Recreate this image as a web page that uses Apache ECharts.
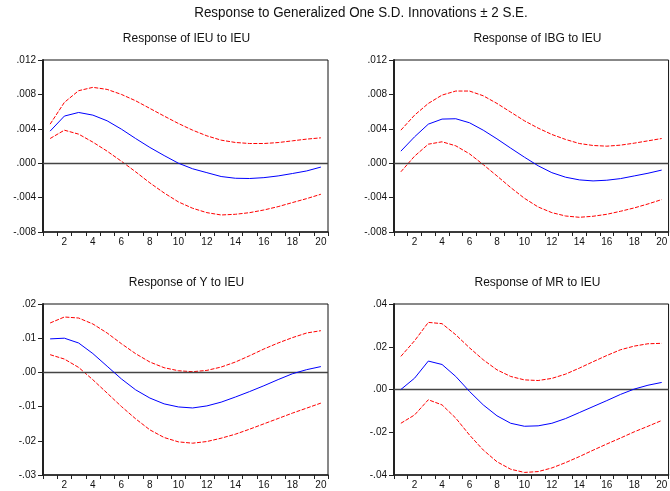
<!DOCTYPE html>
<html>
<head>
<meta charset="utf-8">
<script src="https://cdn.jsdelivr.net/npm/echarts@6/dist/echarts.min.js"></script>
<style>
html,body{margin:0;padding:0;background:#fff;overflow:hidden;}
#chart{width:670px;height:491px;}
</style>
</head>
<body>
<div id="chart"></div>
<script>
const periods = ['1','2','3','4','5','6','7','8','9','10','11','12','13','14','15','16','17','18','19','20'];

const ieuResp  = [0.00373,0.00548,0.0059,0.00559,0.00493,0.00396,0.00287,0.00183,0.00089,0.0000,-0.00065,-0.0011,-0.00155,-0.00175,-0.00178,-0.00168,-0.00148,-0.0012,-0.0009,-0.00045];
const ieuUpper = [0.00454,0.00707,0.00843,0.00882,0.00858,0.008,0.00726,0.00637,0.00548,0.00462,0.00384,0.00318,0.00268,0.00241,0.00229,0.00229,0.0024,0.0026,0.0028,0.00295];
const ieuLower = [0.00287,0.00384,0.00338,0.00245,0.0014,0.00023,-0.001,-0.00229,-0.00346,-0.0045,-0.00524,-0.00575,-0.00602,-0.00594,-0.00575,-0.00544,-0.00505,-0.00458,-0.00412,-0.00361];

const ibgResp  = [0.0014,0.00307,0.00454,0.00513,0.00517,0.0047,0.00384,0.00283,0.00175,0.0007,-0.0003,-0.0011,-0.00163,-0.00194,-0.00206,-0.00198,-0.00179,-0.00148,-0.00117,-0.0008];
const ibgUpper = [0.00384,0.00559,0.00695,0.00792,0.00839,0.00839,0.00784,0.00695,0.00594,0.00493,0.00408,0.00334,0.00276,0.00229,0.00206,0.00198,0.0021,0.00233,0.0026,0.00287];
const ibgLower = [-0.001,0.00082,0.00221,0.00249,0.00202,0.00109,-0.00016,-0.00148,-0.00283,-0.00408,-0.00509,-0.00575,-0.00614,-0.00629,-0.00617,-0.00594,-0.00559,-0.0052,-0.00474,-0.00423];

const yResp  = [0.0098,0.0100,0.0086,0.0055,0.0018,-0.0019,-0.0051,-0.0075,-0.0092,-0.0101,-0.0104,-0.0098,-0.0087,-0.0072,-0.0056,-0.0039,-0.0021,-0.0004,0.0008,0.0017];
const yUpper = [0.01445,0.0162,0.0159,0.01416,0.01152,0.0084,0.00547,0.00303,0.00137,0.00049,0.0002,0.00059,0.00156,0.00303,0.00488,0.00684,0.0086,0.01016,0.01152,0.0122];
const yLower = [0.00518,0.0039,0.00146,-0.00215,-0.00605,-0.00996,-0.01357,-0.0168,-0.01904,-0.02031,-0.0207,-0.02021,-0.01924,-0.01807,-0.0166,-0.01504,-0.01348,-0.01191,-0.01045,-0.00898];

const mrResp  = [0.0,0.0053,0.0133,0.0117,0.0061,-0.0009,-0.0072,-0.0123,-0.0158,-0.0172,-0.017,-0.0158,-0.0136,-0.0108,-0.008,-0.0052,-0.0023,0.0002,0.002,0.0033];
const mrUpper = [0.0155,0.0228,0.0314,0.0308,0.0256,0.0195,0.0139,0.0092,0.0061,0.0045,0.0042,0.0052,0.0072,0.01,0.013,0.0159,0.0186,0.0203,0.0214,0.0216];
const mrLower = [-0.0158,-0.0119,-0.0048,-0.0072,-0.0134,-0.0213,-0.0283,-0.0338,-0.0373,-0.0388,-0.0384,-0.0367,-0.0342,-0.0314,-0.0284,-0.0255,-0.0227,-0.0198,-0.0172,-0.0145];

const panelTitles = ['Response of IEU to IEU','Response of IBG to IEU','Response of Y to IEU','Response of MR to IEU'];
const mainTitle = 'Response to Generalized One S.D. Innovations \u00b1 2 S.E.';
const yScales = [
  {min:-0.008, max:0.012, interval:0.004, decimals:3},
  {min:-0.008, max:0.012, interval:0.004, decimals:3},
  {min:-0.03, max:0.02, interval:0.01, decimals:2},
  {min:-0.04, max:0.04, interval:0.02, decimals:2}
];
const panelData = [
  [ieuResp, ieuUpper, ieuLower],
  [ibgResp, ibgUpper, ibgLower],
  [yResp, yUpper, yLower],
  [mrResp, mrUpper, mrLower]
];

const gridBoxes = [
  {left:43, top:60, width:285, height:172},
  {left:394, top:60, width:285, height:172},
  {left:43, top:304, width:285, height:171},
  {left:394, top:304, width:285, height:171}
];

const fontTick = 'Liberation Sans, Arial, sans-serif';

const grids = [], xAxes = [], yAxes = [], series = [], graphics = [];
gridBoxes.forEach((g, i) => {
  grids.push(Object.assign({show:true, borderColor:'#111', borderWidth:1, backgroundColor:'#fff'}, g));
  xAxes.push({
    type:'category', gridIndex:i, data:periods, boundaryGap:true,
    axisLine:{show:true, onZero:false, lineStyle:{color:'#222', width:1.5}},
    axisTick:{show:true, interval:0, alignWithLabel:false, length:4, lineStyle:{color:'#222'}},
    axisLabel:{interval:(idx)=> idx % 2 === 1, color:'#111', fontSize:10, fontFamily:fontTick, margin:5},
    splitLine:{show:false}
  });
  const s = yScales[i];
  yAxes.push({
    type:'value', gridIndex:i, min:s.min, max:s.max, interval:s.interval,
    axisLine:{show:true, onZero:false, lineStyle:{color:'#222', width:2}},
    axisTick:{show:true, length:5, lineStyle:{color:'#222'}},
    axisLabel:{color:'#111', fontSize:10, fontFamily:fontTick, margin:7,
      formatter:(v)=> v.toFixed(s.decimals).replace('0.', '.')},
    splitLine:{show:false}
  });
  const [resp, up, lo] = panelData[i];
  series.push({
    type:'line', xAxisIndex:i, yAxisIndex:i, data:resp, symbol:'none', smooth:false,
    lineStyle:{color:'#0000ff', width:1}, z:5,
    markLine:{silent:true, symbol:'none', label:{show:false}, animation:false,
      lineStyle:{color:'#444', width:1.3, type:'solid'}, data:[{yAxis:0}]}
  });
  series.push({
    type:'line', xAxisIndex:i, yAxisIndex:i, data:up, symbol:'none', smooth:false,
    lineStyle:{color:'#ff0000', width:1, type:[4,1.5]}, z:4
  });
  series.push({
    type:'line', xAxisIndex:i, yAxisIndex:i, data:lo, symbol:'none', smooth:false,
    lineStyle:{color:'#ff0000', width:1, type:[4,1.5]}, z:4
  });
  graphics.push({
    type:'text', x: g.left + g.width/2 + 1, y: g.top - 21,
    style:{text:panelTitles[i], fill:'#111', font:'12px Liberation Sans, Arial, sans-serif', align:'center', verticalAlign:'middle'}
  });
});
graphics.push({
  type:'text', x:361, y:13, scaleX:0.957,
  style:{text:mainTitle, fill:'#111', font:'14px Liberation Sans, Arial, sans-serif', align:'center', verticalAlign:'middle'}
});

const chart = echarts.init(document.getElementById('chart'), null, {renderer:'canvas'});
chart.setOption({
  animation:false,
  backgroundColor:'#fff',
  grid:grids, xAxis:xAxes, yAxis:yAxes, series:series, graphic:graphics
});
</script>
</body>
</html>
